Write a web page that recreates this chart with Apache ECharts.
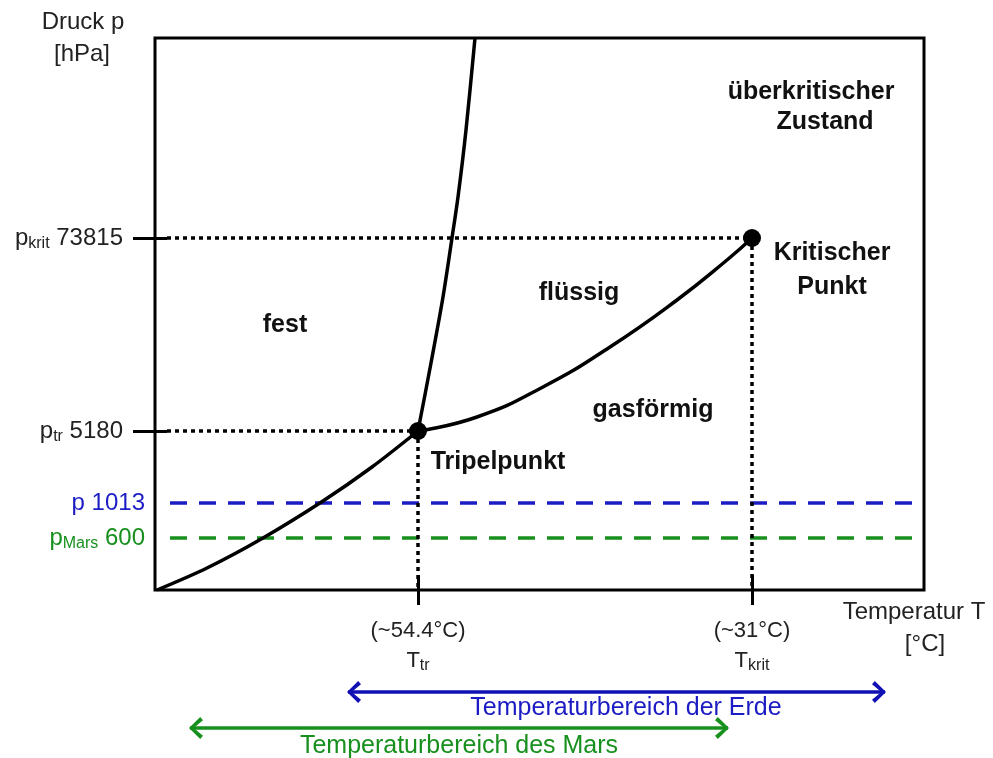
<!DOCTYPE html>
<html>
<head>
<meta charset="utf-8">
<title>Phasendiagramm CO2</title>
<script src="https://cdn.jsdelivr.net/npm/echarts@6/dist/echarts.min.js"></script>
<style>
  html, body { margin: 0; padding: 0; background: #fff; }
  #main { width: 993px; height: 758px; }
</style>
</head>
<body>
<div id="main"></div>
<script>
// Schematic phase diagram of CO2. Both axes are schematic (not to scale):
// values below are positions on a 0..769 (temperature) and 0..552 (pressure) scale.

// Pressure levels marked on the y axis
const pressureSubs   = ['Mars', '', 'tr', 'krit'];
const pressureValues = ['600', '1013', '5180', '73815'];
const pressureLevels = [52, 87, 159, 352];

// Temperature marks on the x axis
const tempTexts  = ['(~54.4°C)', '(~31°C)'];
const tempSubs   = ['tr', 'krit'];
const tempLevels = [263, 597];

// Phase boundaries
const sublimationCurve = [[2, 0], [52, 22], [108, 52], [168, 89], [217, 123], [263, 159]];
const meltingCurve     = [[263, 159], [276, 227], [288, 293], [297, 352], [303, 393], [311, 460], [320, 552]];
const vaporCurve       = [[263, 159], [322, 173], [388, 203], [455, 243], [522, 290], [572, 330], [597, 352]];

// Triple point and critical point
const specialPoints = [[263, 159], [597, 352]];

// Temperature ranges shown below the diagram
const earthRange = [193, 730];
const marsRange  = [35, 573];

const X_MAX = 769, Y_MAX = 552;
const FONT = "'Liberation Sans', Arial, sans-serif";
const INK = '#222222';
const BLUE = '#1c1cc4';
const GREEN = '#17901d';
const BLUE_ARROW = '#1010b4';

const pTr = pressureLevels[2], pKrit = pressureLevels[3];
const p1013 = pressureLevels[1], pMars = pressureLevels[0];
const tTr = tempLevels[0], tKrit = tempLevels[1];

function pressureLabel(v, colorKey) {
  const i = pressureLevels.indexOf(v);
  const sub = pressureSubs[i];
  const m = 'm' + colorKey, s = 's' + colorKey;
  return sub
    ? `{${m}|p}{${s}|${sub}}{${m}| ${pressureValues[i]}}`
    : `{${m}|p ${pressureValues[i]}}`;
}

const richPressure = {
  mk: { fontFamily: FONT, fontSize: 24, color: INK },
  sk: { fontFamily: FONT, fontSize: 16, color: INK, padding: [11, 0, 0, 0] },
  mb: { fontFamily: FONT, fontSize: 24, color: BLUE },
  sb: { fontFamily: FONT, fontSize: 16, color: BLUE, padding: [11, 0, 0, 0] },
  mg: { fontFamily: FONT, fontSize: 24, color: GREEN },
  sg: { fontFamily: FONT, fontSize: 16, color: GREEN, padding: [11, 0, 0, 0] }
};

const chevron = 'path://M0,10 L12,0 L15,3 L5,10 L15,17 L12,20 Z';

function guide(points, type) {
  return {
    type: 'line', data: points, symbol: 'none', silent: true, z: 2,
    lineStyle: { color: '#000', width: 3.5, type: type }
  };
}
function dashed(level, color) {
  return {
    type: 'line', data: [[15, level], [X_MAX, level]], symbol: 'none', silent: true, z: 1,
    lineStyle: { color: color, width: 3.5, type: [17, 12] }
  };
}
function boundary(points, smooth) {
  return {
    type: 'line', data: points, smooth: smooth, symbol: 'none', silent: true, z: 4,
    lineStyle: { color: '#000', width: 3.5 }
  };
}
function rangeArrow(range, yPos, color) {
  return {
    type: 'line', clip: false, silent: true, z: 5,
    lineStyle: { color: color, width: 3.5 },
    itemStyle: { color: color, opacity: 1 },
    symbol: chevron, symbolSize: [14, 22], showSymbol: true,
    data: [
      { value: [range[0], yPos], symbolOffset: [6, 0] },
      { value: [range[1], yPos], symbolRotate: 180, symbolOffset: [-6, 0] }
    ]
  };
}
function textMark(items, style) {
  return {
    type: 'scatter', clip: false, silent: true, symbolSize: 0, z: 6,
    itemStyle: { opacity: 1 },
    data: items.map(t => ({ value: [t.x, t.y], name: t.text })),
    label: Object.assign({
      show: true, position: 'inside', formatter: p => p.name, fontFamily: FONT, opacity: 1
    }, style)
  };
}

const regionLabels = [
  { text: 'fest', x: 130, y: 265 },
  { text: 'flüssig', x: 424, y: 297 },
  { text: 'gasförmig', x: 498, y: 180 },
  { text: 'Tripelpunkt', x: 343, y: 128 },
  { text: 'Kritischer', x: 677, y: 337 },
  { text: 'Punkt', x: 677, y: 303 },
  { text: 'überkritischer', x: 656, y: 498 },
  { text: 'Zustand', x: 670, y: 468 }
];

const chart = echarts.init(document.getElementById('main'), null, { renderer: 'canvas' });

const nameFont = `24px ${FONT}`;

chart.setOption({
  animation: false,
  backgroundColor: '#ffffff',
  grid: {
    left: 155, right: 69, top: 38, bottom: 168,
    show: true, borderColor: '#000', borderWidth: 3, backgroundColor: 'transparent'
  },
  xAxis: [
    {
      type: 'value', min: 0, max: X_MAX, position: 'bottom',
      axisLine: { show: false }, splitLine: { show: false },
      axisTick: { show: true, customValues: tempLevels, length: 15, lineStyle: { color: '#000', width: 3 } },
      axisLabel: {
        customValues: tempLevels, margin: 26, color: INK, fontFamily: FONT, fontSize: 22,
        formatter: v => {
          const i = tempLevels.indexOf(v);
          return `{a|${tempTexts[i]}}\n{t|T}{s|${tempSubs[i]}}`;
        },
        rich: {
          a: { fontFamily: FONT, fontSize: 22, color: INK, lineHeight: 30 },
          t: { fontFamily: FONT, fontSize: 22, color: INK, lineHeight: 30 },
          s: { fontFamily: FONT, fontSize: 16, color: INK, padding: [10, 0, 0, 0] }
        }
      }
    },
    {
      type: 'value', min: 0, max: X_MAX, position: 'bottom',
      axisLine: { show: false }, splitLine: { show: false }, axisLabel: { show: false },
      axisTick: { show: true, inside: true, customValues: tempLevels, length: 15, lineStyle: { color: '#000', width: 3 } }
    }
  ],
  yAxis: [
    {
      type: 'value', min: 0, max: Y_MAX, position: 'left',
      axisLine: { show: false }, splitLine: { show: false },
      axisTick: { show: true, customValues: [pTr, pKrit], length: 22, lineStyle: { color: '#000', width: 3 } },
      axisLabel: {
        customValues: [pTr, pKrit], margin: 32,
        formatter: v => pressureLabel(v, 'k'), rich: richPressure
      }
    },
    {
      type: 'value', min: 0, max: Y_MAX, position: 'left',
      axisLine: { show: false }, splitLine: { show: false },
      axisTick: { show: true, inside: true, customValues: [pTr, pKrit], length: 12, lineStyle: { color: '#000', width: 3 } },
      axisLabel: {
        customValues: [pMars, p1013], margin: 10,
        formatter: v => pressureLabel(v, v === p1013 ? 'b' : 'g'), rich: richPressure
      }
    }
  ],
  graphic: [
    { type: 'text', x: 83, y: 22, style: { text: 'Druck p', font: nameFont, fill: INK, align: 'center', verticalAlign: 'middle' } },
    { type: 'text', x: 82, y: 54, style: { text: '[hPa]', font: nameFont, fill: INK, align: 'center', verticalAlign: 'middle' } },
    { type: 'text', x: 914, y: 612, style: { text: 'Temperatur T', font: nameFont, fill: INK, align: 'center', verticalAlign: 'middle' } },
    { type: 'text', x: 925, y: 644, style: { text: '[°C]', font: nameFont, fill: INK, align: 'center', verticalAlign: 'middle' } }
  ],
  series: [
    dashed(p1013, BLUE),
    dashed(pMars, GREEN),
    guide([[12, pKrit], [tKrit, pKrit]], [4, 4]),
    guide([[12, pTr], [tTr, pTr]], [4, 4]),
    guide([[tTr, pTr], [tTr, 0]], [4, 4]),
    guide([[tKrit, pKrit], [tKrit, 0]], [4, 4]),
    boundary(sublimationCurve, 0.3),
    boundary(meltingCurve, 0.3),
    boundary(vaporCurve, 0.5),
    {
      type: 'scatter', data: specialPoints, symbolSize: 18, silent: true, z: 7,
      itemStyle: { color: '#000', opacity: 1 }
    },
    textMark(regionLabels, { fontSize: 25, fontWeight: 'bold', color: '#111' }),
    rangeArrow(earthRange, -102, BLUE_ARROW),
    rangeArrow(marsRange, -138, GREEN),
    textMark([{ text: 'Temperaturbereich der Erde', x: 471, y: -118 }], { fontSize: 25, color: BLUE }),
    textMark([{ text: 'Temperaturbereich des Mars', x: 304, y: -156 }], { fontSize: 25, color: GREEN })
  ]
});
</script>
</body>
</html>
